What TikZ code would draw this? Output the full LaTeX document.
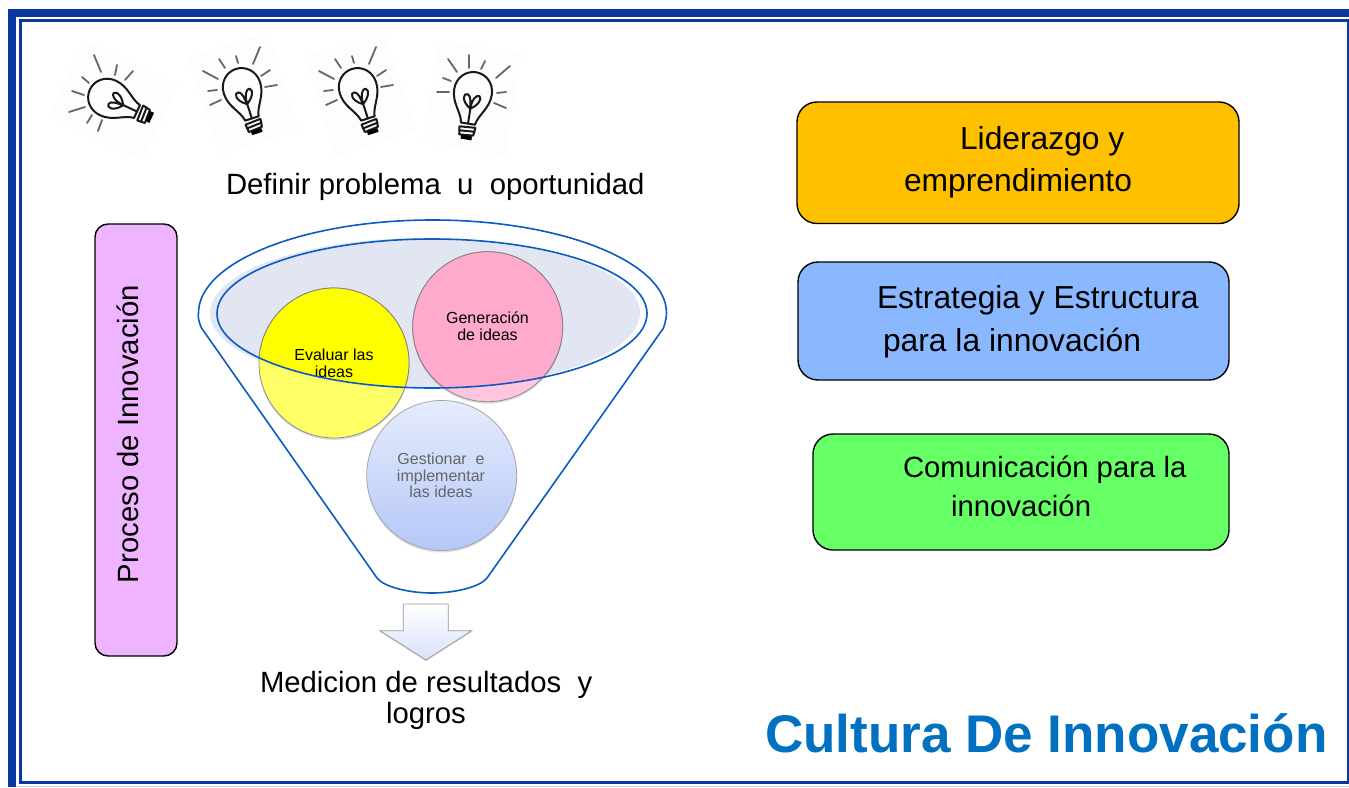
\documentclass[tikz,border=0pt]{standalone}
\usepackage{fontspec}
\setmainfont{Liberation Sans}
\usetikzlibrary{shadows}
\definecolor{framec}{HTML}{0A36A0}
\definecolor{funnelc}{HTML}{0B5BC4}
\definecolor{fillc}{HTML}{E2E6F3}
\definecolor{titlec}{HTML}{0070C0}
\definecolor{pureyellow}{HTML}{FFFF00}
\definecolor{paleline}{HTML}{CCCCEE}
\definecolor{photobg}{HTML}{FDFDFD}
\newcommand{\fsz}[1]{\fontsize{#1}{#1}\selectfont}
\tikzset{
  x=1pt,y=-1pt,
  bigtext/.style={inner sep=0pt,outer sep=0pt,font=\fsz{29.3},text=black},
  boxtext/.style={inner sep=0pt,outer sep=0pt,font=\fsz{31.8},text=black},
  smalltext/.style={inner sep=0pt,outer sep=0pt,font=\fsz{16},align=center,text depth=0pt},
  disc/.style={circle,minimum size=150pt,inner sep=0pt,outer sep=0pt},
  ray/.style={draw=black!60,line width=1.8pt,line cap=round},
  bulbline/.style={draw=black!90,line width=2pt,line cap=round,line join=round},
  funnelline/.style={draw=funnelc,line width=1.6pt},
}
\newcommand{\bulb}[4]{% x, y, rotation, rays
  \begin{scope}[shift={(#1,#2)}]
    \fill[photobg,rotate=#3] (-42,-46) rectangle (42,58);
    \foreach \a/\b/\c/\d in {#4} \draw[ray] (\a,\b) -- (\c,\d);
    \begin{scope}[rotate=#3]
      \draw[bulbline] (-7,32) .. controls (-9,21) and (-19,14) .. (-19,0)
        .. controls (-19,-12) and (-10,-20) .. (0,-20)
        .. controls (10,-20) and (19,-12) .. (19,0)
        .. controls (19,14) and (9,21) .. (7,32);
      \draw[bulbline] (-7,32) -- (7,32) (-8,36) -- (8,35) (-8,40) -- (8,39) (-7,44) -- (7,43)
        (-8,36) -- (-7,44) (8,35) -- (7,43);
      \fill[black] (-5,44) rectangle (6,48);
      \draw[bulbline] (0,32) -- (0,17)
        .. controls (-11,10) and (-9,2) .. (-5,3) .. controls (-1,4) and (-1,11) .. (0,17)
        .. controls (0,7) and (4,2) .. (7,3) .. controls (11,6) and (6,13) .. (0,17);
    \end{scope}
  \end{scope}}
\begin{document}
\begin{tikzpicture}
\useasboundingbox (0,0) rectangle (1349,787);
\fill[white] (0,0) rectangle (1349,787);
% frame
\draw[framec,line width=7.6pt] (12.2,787) -- (12.2,13) -- (1349,13);
\draw[framec,line width=2.5pt] (20.4,782.4) -- (20.4,20.6) -- (1348,20.6) -- (1348,782.4) -- cycle;
\draw[paleline,line width=1.4pt] (16,786.3) -- (1349,786.3);
% bulbs
\bulb{108}{98}{65}{-7/-26/-14/-43,7/-23/9/-33,17/-18/25/-27,-19/-15/-26/-21,-24/-3/-36/-7,-23/9/-39/14,-16/17/-21/25,-6/22/-10/33}
\bulb{242}{88}{18}{-17/-20/-23/-29,-4/-25/-6/-32,11/-24/18/-41,19/-12/28/-18,23/-1/35/-3,-21/12/-32/17,-25/2/-34/3,-24/-9/-39/-17}
\bulb{358}{88}{18}{-17/-20/-23/-29,-4/-25/-6/-32,11/-24/18/-41,19/-12/28/-18,23/-1/35/-3,-21/12/-32/17,-25/2/-34/3,-24/-9/-39/-17}
\bulb{473}{92}{-9}{-16/-20/-25/-33,-4/-24/-4/-37,8/-23/12/-31,23/-14/37/-26,24/1/33/0,21/11/33/16,-22/-11/-30/-14,-24/0/-36/0}
% top label
\node[bigtext,anchor=base west] (definir) at (226,194) {Definir problema\ \ u\ \ oportunidad};
% process box
\draw[draw=black,line width=1.4pt,fill={rgb,255:red,239;green,180;blue,255},rounded corners=13pt] (95,224) rectangle (177,656);
\node[bigtext,rotate=90,anchor=base] (proceso) at (138,434) {Proceso de Innovación};
% funnel
\draw[funnelline,line join=round] (377,578) -- (201.5,328)
  .. controls (198,320) and (198,316) .. (198.5,313)
  .. controls (198.5,262) and (303,220) .. (432.5,220)
  .. controls (562,220) and (666.5,262) .. (666.5,313)
  .. controls (666.5,316) and (666,320) .. (663.5,328)
  -- (487,578)
  .. controls (480,587) and (455,593) .. (432,593)
  .. controls (409,593) and (384,587) .. (377,578);
\fill[fillc] (425,313) ellipse [x radius=215,y radius=75];
% circles
\node[disc,fill={rgb,255:red,255;green,255;blue,102},draw=black!45,line width=.8pt,drop shadow={shadow xshift=0pt,shadow yshift=-2pt,opacity=.25}] (evaluar) at (334,363) {};
\node[disc,fill={rgb,255:red,255;green,198;blue,222},draw=black!45,line width=.8pt,drop shadow={shadow xshift=0pt,shadow yshift=-2pt,opacity=.25}] (generacion) at (487.7,326.7) {};
\node[disc,top color={rgb,255:red,230;green,236;blue,253},bottom color={rgb,255:red,180;green,199;blue,248},draw=black!35,line width=.8pt,drop shadow={shadow xshift=0pt,shadow yshift=-2pt,opacity=.25}] (gestionar) at (441.7,475.5) {};
\begin{scope}
  \clip (432,313.5) ellipse [x radius=215,y radius=74.5];
  \fill[pureyellow] (evaluar) circle [radius=75];
  \fill[fill={rgb,255:red,255;green,170;blue,204}] (generacion) circle [radius=75];
  \draw[black!50,line width=.8pt] (evaluar) circle [radius=75] (generacion) circle [radius=75];
\end{scope}
\node[smalltext] (evaluartxt) at (334,363) {Evaluar las\\[0.6pt]ideas};
\node[smalltext] (generaciontxt) at (487.5,326) {Generación\\[0.6pt]de ideas};
\node[smalltext,text=black!60] (gestionartxt) at (441,475.5) {Gestionar\ \ e\\[0.6pt]implementar\\[0.6pt]las ideas};
\draw[funnelline] (432,313.5) ellipse [x radius=215,y radius=74.5];
% down arrow
\draw[draw=black!40,line width=.8pt,top color=white,bottom color={rgb,255:red,216;green,226;blue,251},line join=miter,drop shadow={shadow xshift=0pt,shadow yshift=-1.5pt,opacity=.2}]
  (403.3,604) -- (448.3,604) -- (448.3,630.7) -- (471.7,630.7) -- (426,660) -- (380,630.7) -- (403.3,630.7) -- cycle;
\node[bigtext,anchor=base west] (medicion) at (260,692) {Medicion de resultados\ \ y};
\node[bigtext,anchor=base west] (logros) at (386,723) {logros};
% right boxes
\draw[draw=black,line width=1.4pt,fill={rgb,255:red,255;green,192;blue,0},rounded corners=20pt] (797,102) rectangle (1239,223.5);
\node[boxtext,anchor=base west] (lider) at (960,149) {Liderazgo y};
\node[boxtext,anchor=base west] (empre) at (904,191) {emprendimiento};
\draw[draw=black,line width=1.4pt,fill={rgb,255:red,138;green,184;blue,255},rounded corners=20pt] (798,262) rectangle (1229,380);
\node[boxtext,anchor=base west] (estra) at (877,308) {Estrategia y Estructura};
\node[boxtext,anchor=base west] (parala) at (883,351) {para la innovación};
\draw[draw=black,line width=1.4pt,fill={rgb,255:red,102;green,255;blue,102},rounded corners=20pt] (813,434) rectangle (1229,550);
\node[bigtext,anchor=base west] (comu) at (903,477) {Comunicación para la};
\node[bigtext,anchor=base west] (innov) at (951,516) {innovación};
% title
\node[inner sep=0pt,outer sep=0pt,anchor=base west,font=\fsz{53}\bfseries,text=titlec] (title) at (765,752) {Cultura De Innovación};
\end{tikzpicture}
\end{document}
